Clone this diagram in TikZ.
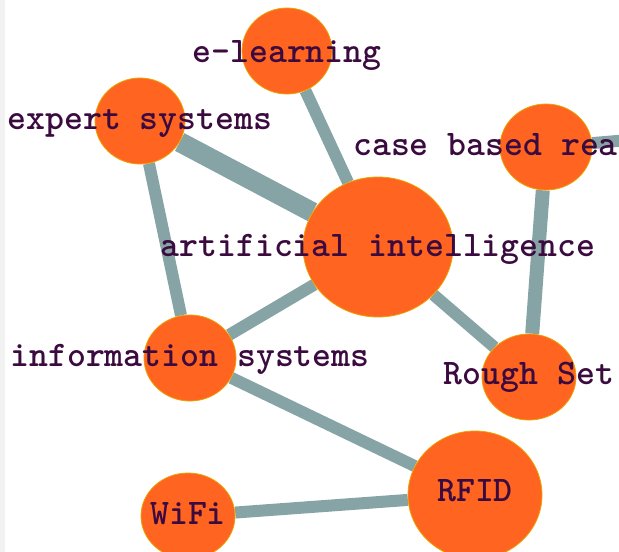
\documentclass[tikz,border=0pt]{standalone}
\usepackage{fontspec}
\usetikzlibrary{shapes.geometric,backgrounds}

\definecolor{bubblefill}{HTML}{FF6420}
\definecolor{bubbleline}{HTML}{EBA300}
\definecolor{linkgray}{HTML}{86A3A5}
\definecolor{tagtext}{HTML}{3B0B40}

\tikzset{
  bubble/.style={ellipse, fill=bubblefill, draw=bubbleline, line width=0.8pt, inner sep=0pt},
  tag/.style={font=\ttfamily\bfseries\fontsize{36}{36}\selectfont, text=tagtext, inner sep=0pt, anchor=base},
  link/.style={draw=linkgray, line width=12pt},
}

\begin{document}
\begin{tikzpicture}[x=1pt,y=-1pt]
            \useasboundingbox (0,0) rectangle (619,552);
            \clip (0,0) rectangle (619,552);

            % the keyword bubbles
            \node[bubble, minimum width=90pt, minimum height=86pt] (elearn) at (287,51) {};
            \node[bubble, minimum width=90pt, minimum height=86pt] (expert) at (140,121) {};
            \node[bubble, minimum width=92pt, minimum height=86pt] (cbr) at (546,147) {};
            \node[bubble, minimum width=150pt, minimum height=140pt] (ai) at (378,247) {};
            \node[bubble, minimum width=92pt, minimum height=86pt] (infosys) at (190,358) {};
            \node[bubble, minimum width=94pt, minimum height=86pt] (rough) at (529,377) {};
            \node[bubble, minimum width=134pt, minimum height=128pt] (rfid) at (475,495) {};
            \node[bubble, minimum width=94pt, minimum height=86pt] (wifi) at (188,516) {};

            % loose end of the link leaving the picture
            \coordinate (cbr-out) at (700,134);

            % the links, behind the bubbles
            \begin{scope}[on background layer]
                \fill[black!5] (0,0) rectangle (5,552);
                \draw[link] (elearn) -- (ai);
                \draw[link, line width=20pt] (expert) -- (ai);
                \draw[link] (expert) -- (infosys);
                \draw[link] (ai) -- (infosys);
                \draw[link] (ai) -- (rough);
                \draw[link, line width=14pt] (cbr) -- (rough);
                \draw[link] (cbr) -- (cbr-out);
                \draw[link] (infosys) -- (rfid);
                \draw[link] (wifi) -- (rfid);
            \end{scope}

            % text on top
            \node[tag] (elearn-t) at ([yshift=-11pt]elearn.center) {e-learning};
            \node[tag] (expert-t) at ([yshift=-8pt]expert.center) {expert systems};
            \node[tag, anchor=base west] (cbr-t) at (353,155) {case based rea};
            \node[tag] (ai-t) at ([yshift=-9pt]ai.center) {artificial intelligence};
            \node[tag] (infosys-t) at ([yshift=-8pt]infosys.center) {information systems};
            \node[tag] (rough-t) at ([yshift=-7pt]rough.center) {Rough Set};
            \node[tag] (rfid-t) at ([yshift=-6pt]rfid.center) {RFID};
            \node[tag] (wifi-t) at ([yshift=-8pt]wifi.center) {WiFi};
        \end{tikzpicture}
\end{document}
